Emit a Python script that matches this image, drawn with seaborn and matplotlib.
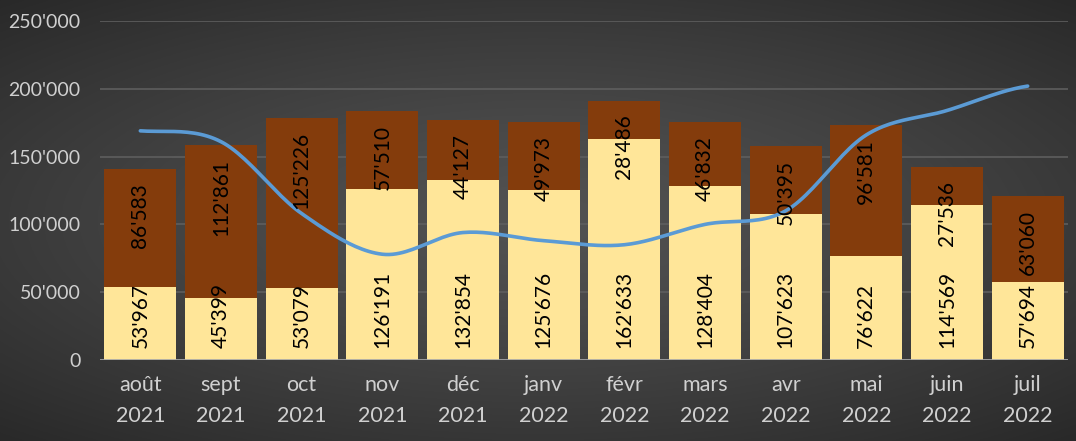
import numpy as np
import matplotlib
matplotlib.use('Agg')
import matplotlib.pyplot as plt
import seaborn as sns
from matplotlib.ticker import FuncFormatter

# Data
months = ['août\n2021', 'sept\n2021', 'oct\n2021', 'nov\n2021', 'déc\n2021', 'janv\n2022',
          'févr\n2022', 'mars\n2022', 'avr\n2022', 'mai\n2022', 'juin\n2022', 'juil\n2022']
lower = [53967, 45399, 53079, 126191, 132854, 125676, 162633, 128404, 107623, 76622, 114569, 57694]
upper = [86583, 112861, 125226, 57510, 44127, 49973, 28486, 46832, 50395, 96581, 27536, 63060]
line_vals = [169000, 161000, 108000, 78000, 94000, 88000, 85000, 100000, 110000, 166000, 184000, 202000]

yellow = '#FFE699'
brown = '#843C0C'
blue = '#5B9BD5'
tick_col = '#D0D0D0'


def fmt(v):
    return f'{int(v):,}'.replace(',', "'")


sns.set_style('white')
plt.rcParams['font.family'] = ['Lato', 'DejaVu Sans']

fig = plt.figure(figsize=(10.76, 4.41), dpi=100)

# radial gradient background
bg = fig.add_axes([0, 0, 1, 1], zorder=-10)
yy, xx = np.mgrid[-1:1:300j, -1:1:700j]
r = np.sqrt((xx * 0.9) ** 2 + (yy * 1.0) ** 2)
shade = 0.32 - 0.16 * np.clip(r / 1.35, 0, 1) ** 1.3
bg.imshow(np.dstack([shade] * 3), aspect='auto', extent=[0, 1, 0, 1])
bg.axis('off')

ax = fig.add_axes([100 / 1076, 81 / 441, 968 / 1076, 339 / 441])
ax.patch.set_alpha(0)

totals = [a + b for a, b in zip(lower, upper)]
sns.barplot(x=months, y=totals, color=brown, width=0.89, saturation=1, ax=ax, zorder=2,
            edgecolor='none', linewidth=0)
sns.barplot(x=months, y=lower, color=yellow, width=0.89, saturation=1, ax=ax, zorder=3,
            edgecolor='none', linewidth=0)

# smoothed line through the monthly points (Catmull-Rom rendering)
pts = np.array(line_vals, dtype=float)
xs_s, ys_s = [], []
p = np.concatenate([[pts[0]], pts, [pts[-1]]])
for i in range(len(pts) - 1):
    t = np.linspace(0, 1, 25)
    p0, p1, p2, p3 = p[i], p[i + 1], p[i + 2], p[i + 3]
    y = 0.5 * ((2 * p1) + (-p0 + p2) * t + (2 * p0 - 5 * p1 + 4 * p2 - p3) * t ** 2
               + (-p0 + 3 * p1 - 3 * p2 + p3) * t ** 3)
    xs_s.extend(i + t)
    ys_s.extend(y)
sns.lineplot(x=xs_s, y=ys_s, color=blue, linewidth=2.6, ax=ax, zorder=5, sort=False)

# bar labels
for i in range(len(months)):
    ax.annotate(fmt(lower[i]), (i, 0), xytext=(0, 9), textcoords='offset points',
                rotation=90, ha='center', va='bottom', fontsize=15, color='black', zorder=6)
    ax.annotate(fmt(upper[i]), (i, totals[i]), xytext=(0, -10), textcoords='offset points',
                rotation=90, ha='center', va='top', fontsize=15, color='black', zorder=6)

ax.set_xlim(-0.5, 11.5)
ax.set_ylim(0, 250000)
ax.set_yticks(range(0, 250001, 50000))
ax.yaxis.set_major_formatter(FuncFormatter(lambda v, _: fmt(v)))
ax.grid(axis='y', color='#5E5E5E', linewidth=1.2, zorder=0)
ax.set_axisbelow(True)
ax.axhline(0, color='#A6A6A6', linewidth=1.2, zorder=4)
for s in ax.spines.values():
    s.set_visible(False)
ax.tick_params(axis='both', length=0, colors=tick_col)
ax.tick_params(axis='y', pad=14, labelsize=14)
ax.tick_params(axis='x', pad=11, labelsize=15.5)
for lab in ax.get_xticklabels():
    lab.set_linespacing(1.7)
ax.set_xlabel('')
ax.set_ylabel('')

fig.savefig('out.png', dpi=100)
